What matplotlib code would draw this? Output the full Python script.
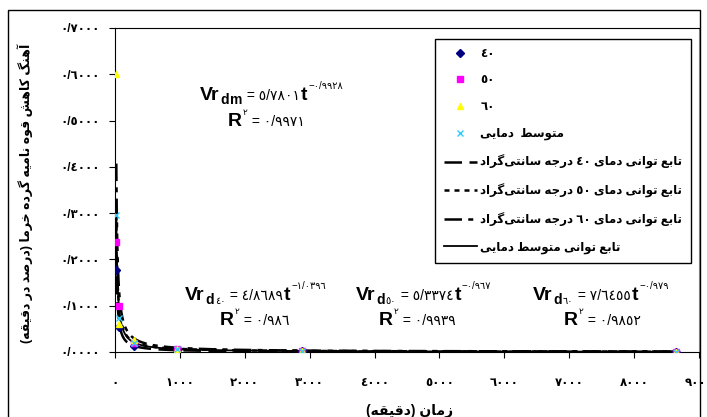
import re
import numpy as np
import matplotlib
matplotlib.use('Agg')
import matplotlib.pyplot as plt
from matplotlib.patches import Rectangle
from matplotlib.lines import Line2D

plt.rcParams['font.family'] = ['Liberation Sans', 'DejaVu Sans']

# measured decline rate of date palm pollen viability (percent per minute)
time_min = [20, 60, 300, 960, 2880, 8640]
rate_40 = [0.177, 0.055, 0.012, 0.005, 0.002, 0.001]
rate_50 = [0.238, 0.100, 0.020, 0.006, 0.002, 0.001]
rate_60 = [0.600, 0.060, 0.027, 0.007, 0.002, 0.001]
rate_avg = [0.296, 0.073, 0.020, 0.006, 0.002, 0.001]

# power-law fits  Vr = a * t^b
fit_40 = (4.8689, -1.0396)
fit_50 = (5.3374, -0.967)
fit_60 = (7.6455, -0.979)
fit_avg = (5.7801, -0.9928)

x_ticks = [0, 1000, 2000, 3000, 4000, 5000, 6000, 7000, 8000, 9000]
y_ticks = [0.0, 0.1, 0.2, 0.3, 0.4, 0.5, 0.6, 0.7]

# --- minimal Persian shaping (presentation forms) --------------------------
FORMS = {
    '\u0627': ('\uFE8D', '\uFE8E', None, None),        # alef
    '\u0622': ('\uFE81', '\uFE82', None, None),        # alef madda
    '\u0628': ('\uFE8F', '\uFE90', '\uFE91', '\uFE92'),
    '\u062A': ('\uFE95', '\uFE96', '\uFE97', '\uFE98'),
    '\u062C': ('\uFE9D', '\uFE9E', '\uFE9F', '\uFEA0'),
    '\u062E': ('\uFEA5', '\uFEA6', '\uFEA7', '\uFEA8'),
    '\u062F': ('\uFEA9', '\uFEAA', None, None),
    '\u0631': ('\uFEAD', '\uFEAE', None, None),
    '\u0632': ('\uFEAF', '\uFEB0', None, None),
    '\u0633': ('\uFEB1', '\uFEB2', '\uFEB3', '\uFEB4'),
    '\u0634': ('\uFEB5', '\uFEB6', '\uFEB7', '\uFEB8'),
    '\u0635': ('\uFEB9', '\uFEBA', '\uFEBB', '\uFEBC'),
    '\u0637': ('\uFEC1', '\uFEC2', '\uFEC3', '\uFEC4'),
    '\u0639': ('\uFEC9', '\uFECA', '\uFECB', '\uFECC'),
    '\u0642': ('\uFED5', '\uFED6', '\uFED7', '\uFED8'),
    '\u06A9': ('\uFB8E', '\uFB8F', '\uFB90', '\uFB91'),
    '\u06AF': ('\uFB92', '\uFB93', '\uFB94', '\uFB95'),
    '\u0645': ('\uFEE1', '\uFEE2', '\uFEE3', '\uFEE4'),
    '\u0646': ('\uFEE5', '\uFEE6', '\uFEE7', '\uFEE8'),
    '\u0647': ('\uFEE9', '\uFEEA', '\uFEEB', '\uFEEC'),
    '\u0648': ('\uFEED', '\uFEEE', None, None),
    '\u06CC': ('\uFBFC', '\uFBFD', '\uFBFE', '\uFBFF'),
}
MIRROR = {'(': ')', ')': '('}


def shape(word):
    out = []
    for i, ch in enumerate(word):
        if ch not in FORMS:
            out.append(ch)
            continue
        iso, fin, ini, med = FORMS[ch]
        prev = word[i - 1] if i > 0 else None
        nxt = word[i + 1] if i + 1 < len(word) else None
        join_prev = prev in FORMS and FORMS[prev][2] is not None
        join_next = ini is not None and nxt in FORMS
        if join_prev and join_next:
            out.append(med)
        elif join_prev:
            out.append(fin)
        elif join_next:
            out.append(ini)
        else:
            out.append(iso)
    return ''.join(out).replace('\u200c', '')


def rtl(s):
    # visual order for right-to-left text, digit runs stay left-to-right
    toks = re.findall(r'[0-9\u0660-\u0669/.]+|.', shape(s))
    return ''.join(MIRROR.get(t, t) for t in reversed(toks))


fig = plt.figure(figsize=(7.07, 4.17), dpi=100)
ax = fig.add_axes([115 / 707, 65 / 417, 584 / 707, 324 / 417])

t = np.linspace(time_min[0], time_min[-1], 4000)
for (a, b), ls, lw in [(fit_40, (0, (7, 3)), 1.8), (fit_50, (0, (2, 2)), 1.8),
                       (fit_60, (0, (7, 2.5, 2, 2.5)), 1.8), (fit_avg, '-', 1.3)]:
    ax.plot(t, a * t ** b, color='black', ls=ls, lw=lw, zorder=2)

ax.plot(time_min, rate_40, ls='none', marker='D', ms=4, color='#000080', zorder=3)
ax.plot(time_min, rate_50, ls='none', marker='s', ms=4.5, color='#FF00FF', zorder=3)
ax.plot(time_min, rate_60, ls='none', marker='^', ms=5, color='#FFFF00', zorder=3)
ax.plot(time_min, rate_avg, ls='none', marker='x', ms=5, mew=1, color='#33CCFF', zorder=3)

ax.set_xlim(0, 9000)
ax.set_ylim(0, 0.7)
ax.set_xticks(x_ticks)
ax.set_yticks(y_ticks)
ar = str.maketrans('0123456789.', '\u0660\u0661\u0662\u0663\u0664\u0665\u0666\u0667\u0668\u0669/')
ax.set_xticklabels([str(v).translate(ar) for v in x_ticks], fontweight='bold', fontsize=8.5)
ax.set_yticklabels([('%.4f' % v).translate(ar) for v in y_ticks], fontweight='bold', fontsize=8.5)
ax.tick_params(axis='x', direction='out', length=4, pad=14)
ax.tick_params(axis='y', direction='out', length=4, pad=7)
ax.spines['right'].set_color('#999999')

ax.set_xlabel(rtl('زمان (دقیقه)'), fontsize=10, fontweight='bold')
ax.xaxis.set_label_coords(0.505, -0.16)
ax.set_ylabel(rtl('آهنگ کاهش قوه نامیه گرده خرما (درصد در دقیقه)'), fontsize=9, fontweight='bold')
ax.yaxis.set_label_coords(-0.14, 0.49)

handles = [
    Line2D([], [], ls='none', marker='D', ms=4, color='#000080'),
    Line2D([], [], ls='none', marker='s', ms=4.5, color='#FF00FF'),
    Line2D([], [], ls='none', marker='^', ms=5, color='#FFFF00'),
    Line2D([], [], ls='none', marker='x', ms=5, mew=1, color='#33CCFF'),
    Line2D([], [], color='black', ls=(0, (7, 3)), lw=1.8),
    Line2D([], [], color='black', ls=(0, (2, 2)), lw=1.8),
    Line2D([], [], color='black', ls=(0, (7, 2.5, 2, 2.5)), lw=1.8),
    Line2D([], [], color='black', ls='-', lw=1.3),
]
labels = ['٤٠', '٥٠', '٦٠', rtl('متوسط  دمایی'),
          rtl('تابع توانی دمای ٤٠ درجه سانتی\u200cگراد'),
          rtl('تابع توانی دمای ٥٠ درجه سانتی\u200cگراد'),
          rtl('تابع توانی دمای ٦٠ درجه سانتی\u200cگراد'),
          rtl('تابع توانی متوسط دمایی')]
leg = ax.legend(handles, labels, loc='upper left', bbox_to_anchor=(320 / 584, 1 - 11 / 324),
                borderaxespad=0, frameon=True, fancybox=False, edgecolor='black',
                framealpha=1, handlelength=2.8, labelspacing=1.24, borderpad=0.75,
                handletextpad=0.3, prop={'weight': 'bold', 'size': 8.5})
leg.get_frame().set_linewidth(1.0)


def chain(x, y, parts):
    prev = None
    for text, size, dy, weight in parts:
        if prev is None:
            prev = ax.annotate(text, xy=(x, y), xycoords='axes fraction', xytext=(0, dy),
                               textcoords='offset points', fontsize=size, fontweight=weight,
                               ha='left', va='baseline')
        else:
            prev = ax.annotate(text, xy=(1, y), xycoords=(prev, 'axes fraction'),
                               xytext=(0.6, dy), textcoords='offset points', fontsize=size,
                               fontweight=weight, ha='left', va='baseline')


def equation(x, y, sub, sub_style, coef, expo, xr, yr, r2):
    chain(x, y, [('Vr', 14, 0, 'bold'), ('d', 10, -3, 'bold'), (sub,) + sub_style,
                 (' = ' + coef, 10, 0, 'normal'), ('t', 14, 0, 'bold'),
                 (expo, 7, 8, 'normal')])
    chain(xr, yr, [('R', 14, 0, 'bold'), ('٢', 6.5, 8, 'normal'), (' = ' + r2, 10, 0, 'normal')])


equation(85 / 584, (352 - 100) / 324, 'm', (10, -3, 'bold'), '٥/٧٨٠١', '−٠/٩٩٢٨',
         113 / 584, (352 - 126) / 324, '٠/٩٩٧١')
equation(70 / 584, (352 - 300) / 324, '٤٠', (7, -3, 'normal'), '٤/٨٦٨٩', '−١/٠٣٩٦',
         105 / 584, (352 - 325) / 324, '٠/٩٨٦')
equation(241 / 584, (352 - 300) / 324, '٥٠', (7, -3, 'normal'), '٥/٣٣٧٤', '−٠/٩٦٧',
         264 / 584, (352 - 325) / 324, '٠/٩٩٣٩')
equation(418 / 584, (352 - 300) / 324, '٦٠', (7, -3, 'normal'), '٧/٦٤٥٥', '−٠/٩٧٩',
         449 / 584, (352 - 325) / 324, '٠/٩٨٥٢')

fig.patches.append(Rectangle((8 / 707, -0.2), 692 / 707, 1.2 - 10 / 417, transform=fig.transFigure,
                             fill=False, edgecolor='black', lw=1.0))

fig.savefig('out.png', dpi=100)
